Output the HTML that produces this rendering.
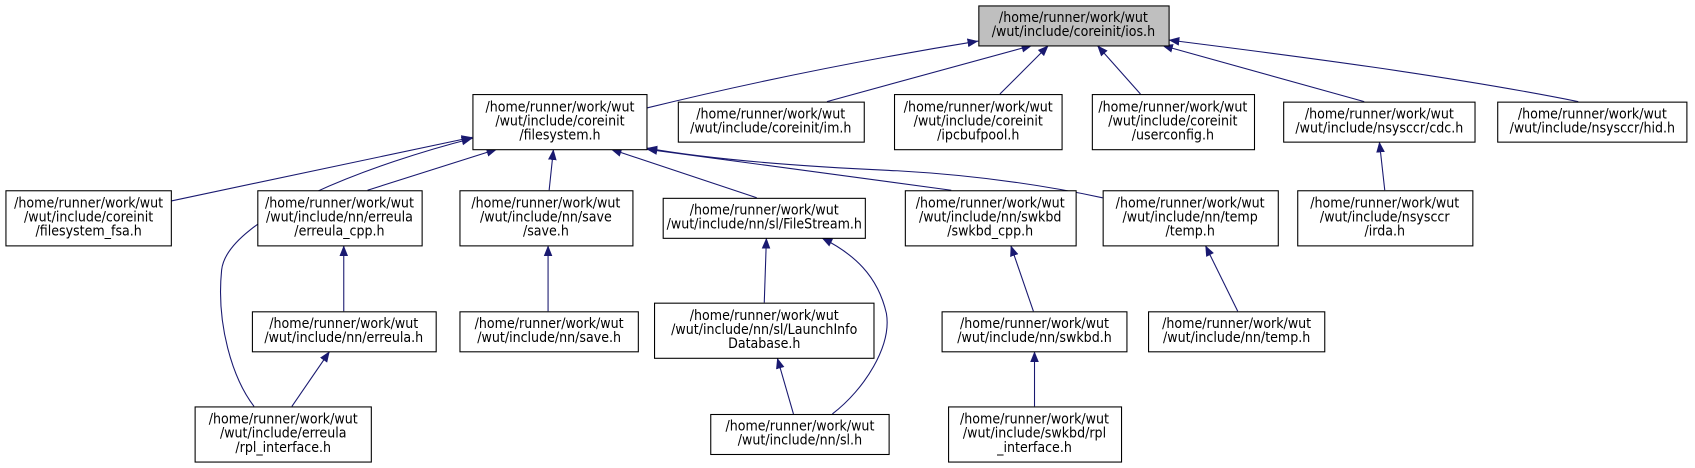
<!DOCTYPE html>
<html><head><meta charset="utf-8"><style>
html,body{margin:0;padding:0;background:#fff;}
svg text{font-family:"DejaVu Sans Condensed","DejaVu Sans","Liberation Sans",sans-serif;font-stretch:condensed;font-size:13px;fill:#000;}
</style></head><body>
<svg width="1695" height="468" viewBox="0 0 1568 433" preserveAspectRatio="none" xmlns="http://www.w3.org/2000/svg" style="display:block">
<defs><marker id="a" viewBox="0 0 10 10" refX="10" refY="5" markerWidth="10" markerHeight="10" markerUnits="userSpaceOnUse" orient="auto"><path d="M0,1 L10,5 L0,9 z" fill="#191970"/></marker></defs>
<g fill="none" stroke="#191970" stroke-width="1" marker-end="url(#a)">
<path d="M598,100 C700,75 800,55 905,38"/>
<path d="M765,94 L955,42"/>
<path d="M925,87 L970,42"/>
<path d="M1055,87 L1015,42"/>
<path d="M1262,94 L1075,42"/>
<path d="M1460,94 C1340,70 1200,52 1081,37"/>
<path d="M158,186 L437,127"/>
<path d="M340,176 L460,138"/>
<path d="M508,176 L512,138"/>
<path d="M700,183 L565,138"/>
<path d="M880,176 L598,138"/>
<path d="M1020,183 C960,170 900,162 830,158 C740,154 660,148 598,137"/>
<path d="M235,376 C215,350 200,300 205,250 C210,200 350,150 437,128"/>
<path d="M1281,176 L1276,131"/>
<path d="M318,288 L318,227"/>
<path d="M270,376 L305,325"/>
<path d="M507,288 L507,227"/>
<path d="M707,280 L709,220"/>
<path d="M734,383 L719,331"/>
<path d="M770,383 C800,360 825,320 820,290 C812,255 790,235 760,220"/>
<path d="M956,288 L935,227"/>
<path d="M957,376 L957,325"/>
<path d="M1145,288 L1115,227"/>
</g>
<g stroke="#000" stroke-width="1">
<rect x="905.5" y="5.5" width="176" height="37" fill="#bfbfbf"/>
<g fill="#fff">
<rect x="437.5" y="87.5" width="161" height="51"/>
<rect x="627.5" y="94.5" width="172" height="37"/>
<rect x="827.5" y="87.5" width="155" height="51"/>
<rect x="1010.5" y="87.5" width="150" height="51"/>
<rect x="1187.5" y="94.5" width="177" height="37"/>
<rect x="1385.5" y="94.5" width="175" height="37"/>
<rect x="5.5" y="176.5" width="153" height="51"/>
<rect x="238.5" y="176.5" width="152" height="51"/>
<rect x="425.5" y="176.5" width="160" height="51"/>
<rect x="613.5" y="183.5" width="187" height="37"/>
<rect x="837.5" y="176.5" width="158" height="51"/>
<rect x="1020.5" y="176.5" width="162" height="51"/>
<rect x="1200.5" y="176.5" width="162" height="51"/>
<rect x="233.5" y="288.5" width="170" height="37"/>
<rect x="425.5" y="288.5" width="165" height="37"/>
<rect x="605.5" y="280.5" width="203" height="51"/>
<rect x="871.5" y="288.5" width="171" height="37"/>
<rect x="1062.5" y="288.5" width="163" height="37"/>
<rect x="180.5" y="376.5" width="163" height="51"/>
<rect x="657.5" y="383.5" width="165" height="37"/>
<rect x="877.5" y="376.5" width="160" height="51"/>
</g></g>
<g text-anchor="middle">
<text x="993" y="20.5">/home/runner/work/wut</text><text x="993" y="33.5">/wut/include/coreinit/ios.h</text>
<text x="518" y="103">/home/runner/work/wut</text><text x="518" y="116">/wut/include/coreinit</text><text x="518" y="129">/filesystem.h</text>
<text x="713" y="109.5">/home/runner/work/wut</text><text x="713" y="122.5">/wut/include/coreinit/im.h</text>
<text x="905" y="103">/home/runner/work/wut</text><text x="905" y="116">/wut/include/coreinit</text><text x="905" y="129">/ipcbufpool.h</text>
<text x="1085" y="103">/home/runner/work/wut</text><text x="1085" y="116">/wut/include/coreinit</text><text x="1085" y="129">/userconfig.h</text>
<text x="1276" y="109.5">/home/runner/work/wut</text><text x="1276" y="122.5">/wut/include/nsysccr/cdc.h</text>
<text x="1473" y="109.5">/home/runner/work/wut</text><text x="1473" y="122.5">/wut/include/nsysccr/hid.h</text>
<text x="82" y="192">/home/runner/work/wut</text><text x="82" y="205">/wut/include/coreinit</text><text x="82" y="218">/filesystem_fsa.h</text>
<text x="314" y="192">/home/runner/work/wut</text><text x="314" y="205">/wut/include/nn/erreula</text><text x="314" y="218">/erreula_cpp.h</text>
<text x="505" y="192">/home/runner/work/wut</text><text x="505" y="205">/wut/include/nn/save</text><text x="505" y="218">/save.h</text>
<text x="707" y="198.5">/home/runner/work/wut</text><text x="707" y="211.5">/wut/include/nn/sl/FileStream.h</text>
<text x="916" y="192">/home/runner/work/wut</text><text x="916" y="205">/wut/include/nn/swkbd</text><text x="916" y="218">/swkbd_cpp.h</text>
<text x="1101" y="192">/home/runner/work/wut</text><text x="1101" y="205">/wut/include/nn/temp</text><text x="1101" y="218">/temp.h</text>
<text x="1281" y="192">/home/runner/work/wut</text><text x="1281" y="205">/wut/include/nsysccr</text><text x="1281" y="218">/irda.h</text>
<text x="318" y="303.5">/home/runner/work/wut</text><text x="318" y="316.5">/wut/include/nn/erreula.h</text>
<text x="508" y="303.5">/home/runner/work/wut</text><text x="508" y="316.5">/wut/include/nn/save.h</text>
<text x="707" y="296">/home/runner/work/wut</text><text x="707" y="309">/wut/include/nn/sl/LaunchInfo</text><text x="707" y="322">Database.h</text>
<text x="957" y="303.5">/home/runner/work/wut</text><text x="957" y="316.5">/wut/include/nn/swkbd.h</text>
<text x="1144" y="303.5">/home/runner/work/wut</text><text x="1144" y="316.5">/wut/include/nn/temp.h</text>
<text x="262" y="392">/home/runner/work/wut</text><text x="262" y="405">/wut/include/erreula</text><text x="262" y="418">/rpl_interface.h</text>
<text x="740" y="398.5">/home/runner/work/wut</text><text x="740" y="411.5">/wut/include/nn/sl.h</text>
<text x="957" y="392">/home/runner/work/wut</text><text x="957" y="405">/wut/include/swkbd/rpl</text><text x="957" y="418">_interface.h</text>
</g>
</svg>
</body></html>
